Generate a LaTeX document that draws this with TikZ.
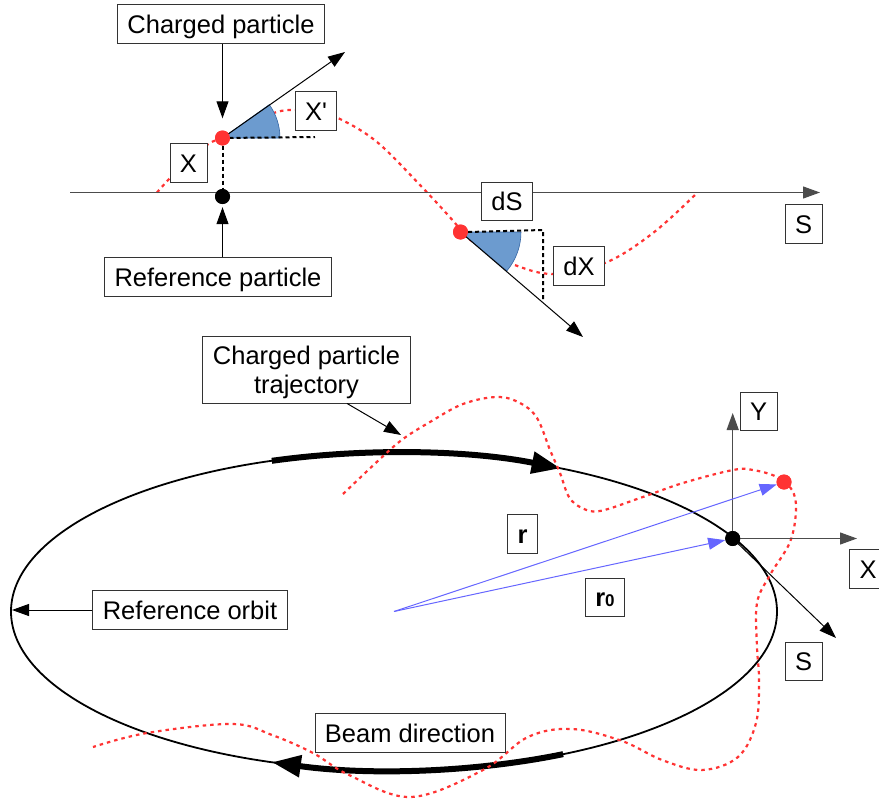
\documentclass[tikz,border=0pt]{standalone}
\usepackage{fontspec}
\setmainfont{Liberation Sans}
\newfontfamily\primefont{Liberation Sans}
\usetikzlibrary{arrows.meta}
\definecolor{wedgeblue}{HTML}{6C9BCF}
\definecolor{wedgeedge}{HTML}{3465A4}
\definecolor{trajred}{HTML}{FF3333}
\definecolor{radiusblue}{HTML}{6666FF}
\begin{document}
\begin{tikzpicture}[x=1pt,y=-1pt]

    \tikzset{
      labelbox/.style={
        draw=black!80,
        fill=white,
        line width=0.9pt,
        inner xsep=10pt,
        inner ysep=0pt,
        minimum height=38.5pt,
        text height=18.4pt,
        text depth=0pt,
        align=center,
        font=\fontsize{25.5}{29}\selectfont,
      },
      axisline/.style={
        color=black!70,
        line width=1.2pt,
        >={Triangle[length=17pt,width=12pt]},
        ->,
      },
      pointer/.style={
        color=black,
        line width=1pt,
        >={Triangle[length=17pt,width=12pt]},
        ->,
      },
      radius line/.style={
        color=radiusblue,
        line width=1pt,
        >={Triangle[length=17pt,width=12pt]},
        ->,
      },
      trajectory/.style={
        color=trajred,
        line width=2.2pt,
        dash pattern=on 3.5pt off 4pt,
      },
      helper/.style={
        color=black,
        line width=2pt,
        dash pattern=on 4pt off 3pt,
      },
      wedge/.style={
        fill=wedgeblue,
        draw=wedgeedge,
        line width=0.6pt,
      },
      particle/.style={
        circle,
        inner sep=0pt,
        minimum size=15pt,
      },
      beamarc/.style={
        color=black,
        line width=6pt,
        >={Triangle[length=29pt,width=21pt]},
        ->,
      },
    }
    \useasboundingbox (0,0) rectangle (879,803);
    \clip (0,0) rectangle (879,803);

	\coordinate (axisstart) at (70,192.5);
	\coordinate (axisend) at (820,192.5);
	\coordinate (slopeup) at (345,52);
	\coordinate (slopedown) at (583,337);
	\coordinate (corner) at (543,230);
	\coordinate (footdown) at (543,301);
	\coordinate (levelend) at (315,137);
	\coordinate (centre) at (394,611.5);
	\coordinate (orbitleft) at (12,610);
	\coordinate (orbittop) at (401,435);
	\coordinate (yend) at (732.7,413);
	\coordinate (xend) at (857,538.5);
	\coordinate (send) at (836,638);

	\node[particle,fill=trajred] (chargeddot) at (222.5,138) {};
	\node[particle,fill=black] (refdot) at (222.5,196.5) {};
	\node[particle,fill=trajred] (driftdot) at (460.5,232) {};
	\node[particle,fill=black] (orbitdot) at (732.7,538.5) {};
	\node[particle,fill=trajred] (tipdot) at (784,482) {};

	\draw[color=black,line width=1.8pt] (centre) ellipse [x radius=383, y radius=159];
	\draw[beamarc] ({394+383*cos(108.6)},{611.5-159*sin(108.6)}) arc [start angle=-108.6, end angle=-64.2, x radius=383, y radius=159];
	\draw[beamarc] ({394+383*cos(63.8)},{611.5+159*sin(63.8)}) arc [start angle=63.8, end angle=108.6, x radius=383, y radius=159];

	\draw[trajectory] plot[smooth,tension=0.6] coordinates {(157,192.5) (170,178) (188,160) (210,143) (222.5,138) (250,122) (277,112) (293,110) (316,112) (340,119) (377,142) (420,185) (455,223) (460.5,232) (485,250) (512,264) (553,274) (605,263) (653,233) (697,193)};
	\draw[trajectory] plot[smooth,tension=0.6] coordinates {(343,494) (380,459) (403,439) (430,422) (463,404) (497,397) (520,403) (537,418) (550,450) (560,473) (569,497) (582,508) (600,511) (640,498) (683,483) (733,470) (753,470) (777,477) (792,490) (796,510) (790,542) (770,575) (757,603) (757,647) (759,680) (756,723) (738,757) (702,770) (662,760) (622,741) (572,729) (528,737) (483,770) (411,797) (349,775) (313,753) (272,735) (232,724) (147,733) (93,747)};

	\draw[wedge] (chargeddot.center) -- ++(57.5,0) arc [start angle=0, end angle=-35.5, radius=57.5] -- cycle;
	\draw[wedge] (driftdot.center) -- ++(60.5,0) arc [start angle=0, end angle=40, radius=60.5] -- cycle;

	\draw[axisline] (axisstart) -- (axisend);
	\draw[helper] (chargeddot) -- (refdot);
	\draw[helper] (chargeddot.center) -- (levelend);
	\draw[helper] (driftdot.east) -- (corner) -- (footdown);
	\draw[pointer] (chargeddot.center) -- (slopeup);
	\draw[pointer] (driftdot.center) -- (slopedown);

	\draw[axisline] (orbitdot.center) -- (yend);
	\draw[axisline] (orbitdot.center) -- (xend);
	\draw[pointer] (orbitdot.center) -- (send);
	\draw[radius line] (centre) -- (tipdot);
	\draw[radius line] (centre) -- (orbitdot);

	\node[labelbox] (chargedbox) at (221,24) {Charged particle};
	\node[labelbox] (xbox) at (188.5,163) {X};
	\node[labelbox] (xprimebox) at (316,111) {X{\primefont'}};
	\node[labelbox] (dsbox) at (507,201.5) {dS};
	\node[labelbox] (dxbox) at (579,266) {dX};
	\node[labelbox] (sbox) at (803.5,224) {S};
	\node[labelbox] (refbox) at (218,277) {Reference particle};
	\node[labelbox,minimum height=67pt,text height=47pt] (trajbox) at (306.5,369.5) {Charged particle\\trajectory};
	\node[labelbox] (ybox) at (758.5,411.5) {Y};
	\node[labelbox] (xaxisbox) at (868,569) {X};
	\node[labelbox] (saxisbox) at (803.5,661.5) {S};
	\node[labelbox] (rbox) at (522.5,534) {\bfseries r};
	\node[labelbox] (rzerobox) at (605,597.5) {\bfseries r\fontsize{17}{19}\selectfont 0};
	\node[labelbox] (orbitbox) at (190,610) {Reference orbit};
	\node[labelbox] (beambox) at (410,733) {Beam direction};

	\draw[pointer] (chargedbox.south -| chargeddot) -- ([yshift=12pt]chargeddot.north);
	\draw[pointer] (refbox.north -| refdot) -- ([yshift=-3pt]refdot.south);
	\draw[pointer] (orbitbox) -- (orbitleft);
	\draw[pointer] (trajbox.south -| 347,0) -- (orbittop);

	\node[particle,fill=trajred] at (chargeddot) {};
	\node[particle,fill=black] at (refdot) {};
	\node[particle,fill=trajred] at (driftdot) {};
	\node[particle,fill=black] at (orbitdot) {};
	\node[particle,fill=trajred] at (tipdot) {};

\end{tikzpicture}
\end{document}
